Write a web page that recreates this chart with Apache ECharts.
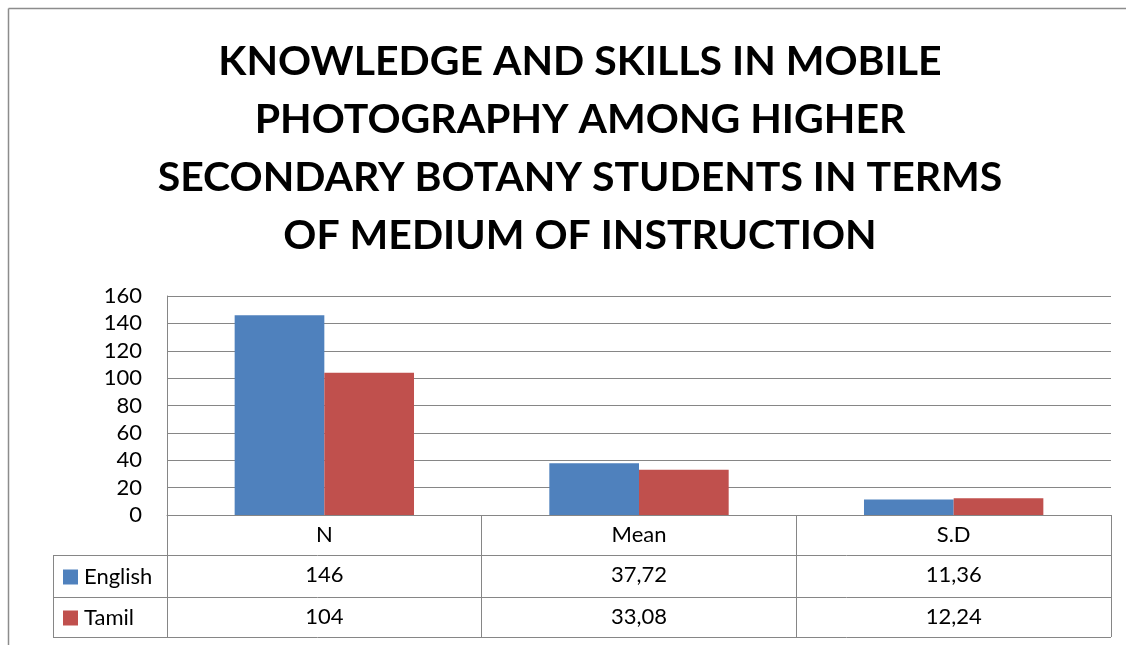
<!DOCTYPE html>
<html>
<head>
<meta charset="utf-8">
<script src="https://cdn.jsdelivr.net/npm/echarts@6/dist/echarts.min.js"></script>
<style>
html,body{margin:0;padding:0;background:#fff;overflow:hidden;}
#chart{width:1126px;height:645px;}
</style>
</head>
<body>
<div id="chart"></div>
<script>
const titleLines = [
  'KNOWLEDGE AND SKILLS IN MOBILE',
  'PHOTOGRAPHY AMONG HIGHER',
  'SECONDARY BOTANY STUDENTS IN TERMS',
  'OF MEDIUM OF INSTRUCTION'
];
const categories = ['N', 'Mean', 'S.D'];
const seriesNames = ['English', 'Tamil'];
const english = [146, 37.72, 11.36];
const tamil = [104, 33.08, 12.24];
const yTicks = { min: 0, max: 160, interval: 20 };

const FONT = 'Lato';
const BLUE = '#4F81BD';
const RED = '#C0504D';
const GRID = '#868686';

function fmt(v) {
  return Number.isInteger(v) ? String(v) : v.toFixed(2).replace('.', ',');
}

const chart = echarts.init(document.getElementById('chart'), null, { renderer: 'canvas' });

const gridLeft = 167, gridRight = 15, gridTop = 296, gridBottom = 130;
const axisY = 645 - gridBottom;      // 515
const tableLeft = 53;
const tableRight = 1126 - gridRight; // 1111
const row1 = 555, row2 = 597, row3 = 637;

const valueAxisCommon = {
  type: 'category',
  data: categories,
  position: 'bottom',
  axisLine: { show: false },
  axisTick: { show: false },
  axisLabel: { fontFamily: FONT, fontSize: 22, color: '#000', margin: 9 }
};

const option = {
  backgroundColor: '#fff',
  animation: false,
  title: {
    text: titleLines.join('\n'),
    left: 575,
    top: 28,
    textAlign: 'center',
    textStyle: {
      fontFamily: FONT,
      fontWeight: 'bold',
      fontSize: 41,
      lineHeight: 58,
      color: '#000'
    }
  },
  legend: {
    orient: 'vertical',
    left: 58,
    top: 561,
    itemWidth: 15,
    itemHeight: 15,
    itemGap: 19,
    icon: 'rect',
    textStyle: { fontFamily: FONT, fontSize: 22, color: '#000', padding: [0, 0, 0, 1] },
    data: seriesNames
  },
  grid: { left: gridLeft, right: gridRight, top: gridTop, bottom: gridBottom, containLabel: false },
  xAxis: [
    {
      type: 'category',
      data: categories,
      position: 'bottom',
      axisLine: { show: true, lineStyle: { color: GRID, width: 1 } },
      axisTick: { show: true, length: row3 - axisY, inside: false, alignWithLabel: false, lineStyle: { color: GRID, width: 1 } },
      axisLabel: { fontFamily: FONT, fontSize: 22, color: '#000', margin: 9 }
    },
    Object.assign({}, valueAxisCommon, {
      offset: row1 - axisY,
      axisLabel: Object.assign({}, valueAxisCommon.axisLabel, { formatter: (v, i) => fmt(english[i]) })
    }),
    Object.assign({}, valueAxisCommon, {
      offset: row2 - axisY,
      axisLabel: Object.assign({}, valueAxisCommon.axisLabel, { formatter: (v, i) => fmt(tamil[i]) })
    })
  ],
  yAxis: {
    type: 'value',
    min: yTicks.min,
    max: yTicks.max,
    interval: yTicks.interval,
    axisLine: { show: true, lineStyle: { color: GRID, width: 1 } },
    axisTick: { show: false },
    axisLabel: { fontFamily: FONT, fontSize: 22, color: '#000', margin: 25 },
    splitLine: { show: true, lineStyle: { color: GRID, width: 1 } }
  },
  series: [
    {
      name: seriesNames[0], type: 'bar', data: english, xAxisIndex: 0,
      itemStyle: { color: BLUE }, barGap: '0%', barCategoryGap: '43%'
    },
    {
      name: seriesNames[1], type: 'bar', data: tamil, xAxisIndex: 0,
      itemStyle: { color: RED }, barGap: '0%', barCategoryGap: '43%'
    }
  ],
  graphic: [
    { type: 'line', shape: { x1: 8.5, y1: 8.5, x2: 1126, y2: 8.5 }, style: { stroke: '#8c8c8c', lineWidth: 1.5 }, silent: true },
    { type: 'line', shape: { x1: 8.5, y1: 8.5, x2: 8.5, y2: 645 }, style: { stroke: '#8c8c8c', lineWidth: 1.5 }, silent: true },
    { type: 'line', shape: { x1: tableLeft, y1: row1 + 0.5, x2: tableRight, y2: row1 + 0.5 }, style: { stroke: GRID, lineWidth: 1 } },
    { type: 'line', shape: { x1: tableLeft, y1: row2 + 0.5, x2: tableRight, y2: row2 + 0.5 }, style: { stroke: GRID, lineWidth: 1 } },
    { type: 'line', shape: { x1: tableLeft, y1: row3 + 0.5, x2: tableRight, y2: row3 + 0.5 }, style: { stroke: GRID, lineWidth: 1 } },
    { type: 'line', shape: { x1: tableLeft + 0.5, y1: row1, x2: tableLeft + 0.5, y2: row3 }, style: { stroke: GRID, lineWidth: 1 } }
  ]
};

chart.setOption(option);
</script>
</body>
</html>
